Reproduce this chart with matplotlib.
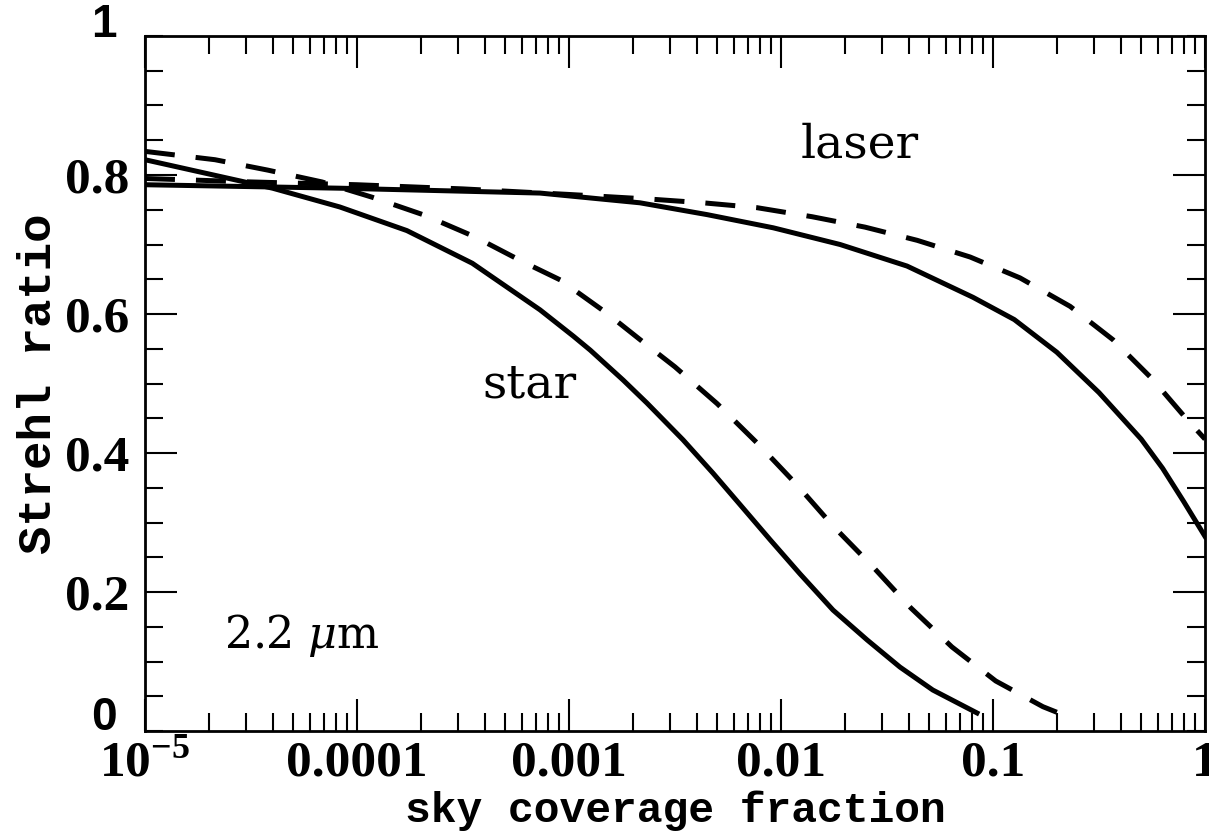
import matplotlib
matplotlib.use("Agg")
import matplotlib.pyplot as plt
from matplotlib.ticker import FixedLocator, FixedFormatter, MultipleLocator, NullFormatter

plt.rcParams['mathtext.fontset'] = 'custom'
plt.rcParams['mathtext.rm'] = 'Liberation Serif:bold'
plt.rcParams['mathtext.it'] = 'DejaVu Serif:italic'

# natural guide star, 2.2 um (solid / dashed)
star_x = [1.0e-5, 4.0e-5, 8.3e-5, 1.72e-4, 3.5e-4, 7.3e-4, 1.05e-3, 1.26e-3, 1.8e-3, 2.33e-3,
          3.45e-3, 4.78e-3, 6.4e-3, 8.9e-3, 1.23e-2, 1.76e-2, 2.55e-2, 3.64e-2, 5.2e-2, 8.4e-2]
star_solid = [0.822, 0.781, 0.754, 0.720, 0.673, 0.606, 0.568, 0.548, 0.505, 0.472,
              0.419, 0.371, 0.326, 0.275, 0.226, 0.174, 0.131, 0.092, 0.059, 0.026]

star_dash_x = [1.0e-5, 2.14e-5, 3.8e-5, 6.84e-5, 1.18e-4, 2.09e-4, 3.6e-4, 6.07e-4, 9.1e-4, 1.16e-3,
               1.51e-3, 2.23e-3, 3.16e-3, 5.0e-3, 7.8e-3, 1.19e-2, 1.76e-2, 2.72e-2, 4.1e-2, 6.4e-2,
               0.103, 0.172, 0.2]
star_dash = [0.834, 0.822, 0.807, 0.790, 0.768, 0.742, 0.711, 0.675, 0.649, 0.626,
             0.601, 0.560, 0.524, 0.471, 0.413, 0.354, 0.295, 0.236, 0.177, 0.121,
             0.072, 0.035, 0.027]

# laser guide star
laser_x = [1.0e-5, 8.3e-5, 7.3e-4, 2.16e-3, 4.48e-3, 9.2e-3, 1.9e-2, 3.93e-2, 8.05e-2,
           0.126, 0.2, 0.316, 0.5, 0.631, 0.794, 0.891, 1.0]
laser_solid = [0.786, 0.781, 0.774, 0.760, 0.743, 0.724, 0.700, 0.669, 0.624,
               0.592, 0.545, 0.487, 0.420, 0.378, 0.330, 0.305, 0.28]

laser_dash_x = [1.0e-5, 3.16e-5, 1.0e-4, 3.16e-4, 1.0e-3, 2.5e-3, 4.29e-3, 7.7e-3, 1.4e-2,
                2.49e-2, 4.39e-2, 7.8e-2, 0.134, 0.231, 0.368, 0.562, 0.813, 1.0]
laser_dash = [0.795, 0.790, 0.786, 0.780, 0.772, 0.765, 0.760, 0.753, 0.740,
              0.725, 0.706, 0.682, 0.652, 0.611, 0.563, 0.507, 0.450, 0.42]

xticks = [1e-5, 1e-4, 1e-3, 1e-2, 1e-1, 1]
xtick_labels = ["$10^{-5}$", "0.0001", "0.001", "0.01", "0.1", "1"]
yticks = [0.2, 0.4, 0.6, 0.8]
ytick_labels = ["0.2", "0.4", "0.6", "0.8"]

fig = plt.figure(figsize=(12.09, 8.39), dpi=100)
ax = fig.add_axes([0.1199, 0.1287, 0.8768, 0.8284])

lw = 3.6
ax.plot(star_x, star_solid, color="black", lw=lw)
ax.plot(star_dash_x, star_dash, color="black", lw=lw, dashes=(6, 4.2))
ax.plot(laser_x, laser_solid, color="black", lw=lw)
ax.plot(laser_dash_x, laser_dash, color="black", lw=lw, dashes=(6, 4.2))

ax.set_xscale("log")
ax.set_xlim(1e-5, 1)
ax.set_ylim(0, 1)

ax.xaxis.set_major_locator(FixedLocator(xticks))
ax.xaxis.set_major_formatter(FixedFormatter(xtick_labels))
ax.xaxis.set_minor_formatter(NullFormatter())
ax.yaxis.set_major_locator(FixedLocator(yticks))
ax.yaxis.set_major_formatter(FixedFormatter(ytick_labels))
ax.yaxis.set_minor_locator(MultipleLocator(0.05))

ax.tick_params(which="both", direction="in", top=True, right=True, width=1.5, color="black")
ax.tick_params(which="major", length=23)
ax.tick_params(which="minor", length=13)
ax.tick_params(axis="x", which="major", pad=7)
ax.tick_params(axis="y", which="major", pad=11)
for lab in ax.get_xticklabels() + ax.get_yticklabels():
    lab.set_fontfamily("Liberation Serif")
    lab.set_fontweight("bold")
    lab.set_fontsize(37)
for s in ax.spines.values():
    s.set_linewidth(2)

ax.set_xlabel("sky coverage fraction", fontfamily="Liberation Mono", fontweight="bold",
              fontsize=31, labelpad=2)
ax.set_ylabel("Strehl ratio", fontfamily="Liberation Mono", fontweight="bold",
              fontsize=34, labelpad=3)

ax.text(0.0236, 0.843, "laser", fontfamily="DejaVu Serif", fontsize=34, ha="center", va="center")
ax.text(6.5e-4, 0.498, "star", fontfamily="DejaVu Serif", fontsize=34, ha="center", va="center")
ax.text(5.5e-5, 0.138, "2.2 $\\mu$m", fontfamily="DejaVu Serif", fontsize=32, ha="center", va="center")

ax.text(-0.039, 1.016, "1", transform=ax.transAxes, fontfamily="Liberation Sans",
        fontweight="bold", fontsize=33, ha="center", va="center")
ax.text(-0.039, 0.019, "0", transform=ax.transAxes, fontfamily="Liberation Sans",
        fontweight="bold", fontsize=33, ha="center", va="center")

fig.savefig("out.png", dpi=100)
